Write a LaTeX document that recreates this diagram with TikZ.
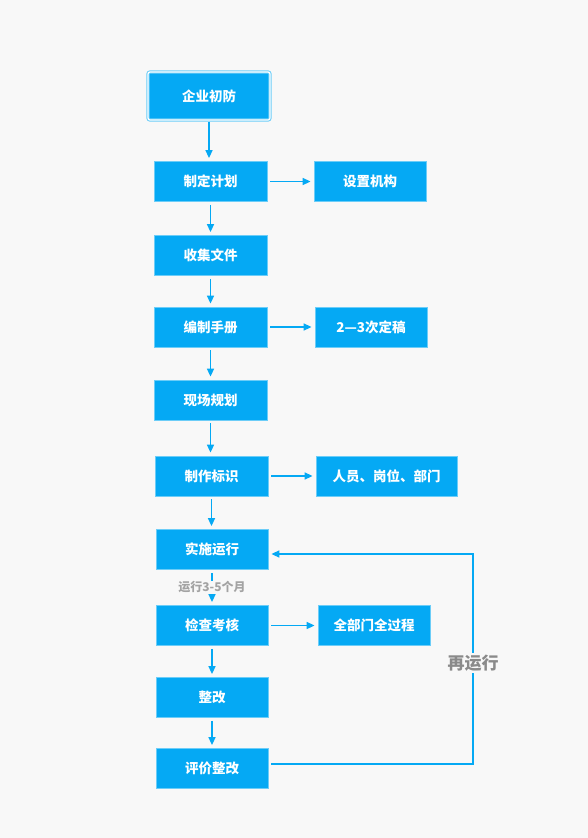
\documentclass[tikz,border=0pt]{standalone}
\usepackage{fontspec}
\setmainfont{Noto Sans CJK SC}
\usetikzlibrary{arrows.meta,calc}
\definecolor{bg}{HTML}{F8F8F8}
\definecolor{boxblue}{HTML}{05A9F4}
\definecolor{edgeblue}{HTML}{6CCDF8}
\definecolor{lblgray}{HTML}{A3A3A3}
\definecolor{lbldark}{HTML}{8A8A8A}
\tikzset{
  stepbox/.style={fill=boxblue,draw=edgeblue,line width=0.8pt,text=white,
    font=\fontsize{13.5}{16}\selectfont\bfseries,minimum width=113pt,minimum height=40pt,inner sep=0pt},
  startbox/.style={stepbox,minimum width=122pt,minimum height=48pt,rounded corners=2pt,
    draw=edgeblue,double=white,double distance=1.2pt,line width=1pt},
  flow/.style={draw=boxblue,line width=1.5pt,-{Triangle[length=8pt,width=7pt]},shorten >=3pt,shorten <=3pt},
}
\begin{document}
\begin{tikzpicture}[x=1pt,y=-1pt]
\useasboundingbox (0,0) rectangle (588,838);
\fill[bg] (0,0) rectangle (588,838);
\node[startbox] (n1) at (209,96) {企业初防};
\node[stepbox] (n2) at (210.5,181.5) {制定计划};
\node[stepbox,minimum width=112pt] (n3) at (370,181.5) {设置机构};
\node[stepbox] (n4) at (210.5,255.5) {收集文件};
\node[stepbox] (n5) at (210.5,327) {编制手册};
\node[stepbox,minimum width=112pt] (n6) at (371,327) {2—3次定稿};
\node[stepbox] (n7) at (210.5,400) {现场规划};
\node[stepbox] (n8) at (211.5,476) {制作标识};
\node[stepbox,minimum width=141pt] (n9) at (386.5,476) {人员、岗位、部门};
\node[stepbox,minimum width=112pt] (n10) at (212,549.5) {实施运行};
\node[stepbox,minimum width=112pt] (n11) at (212,625.5) {检查考核};
\node[stepbox,minimum width=112pt] (n12) at (374,625.5) {全部门全过程};
\node[stepbox,minimum width=112pt] (n13) at (212,697.5) {整改};
\node[stepbox,minimum width=112pt] (n14) at (212,768.5) {评价整改};

\draw[flow,shorten <=1pt] (n1.south) -- (n1.south |- n2.north);
\draw[flow] (n2.south) -- (n2.south |- n4.north);
\draw[flow] (n4.south) -- (n4.south |- n5.north);
\draw[flow] (n5.south) -- (n5.south |- n7.north);
\draw[flow] (n7.south) -- (n7.south |- n8.north);
\draw[flow] (n8.south) -- (n8.south |- n10.north);
\draw[flow] (n10.south) -- (n10.south |- n11.north)
  node[midway,fill=bg,inner sep=1pt,text=lblgray,font=\fontsize{12}{14}\selectfont\bfseries] (lbl1) {运行3-5个月};
\draw[flow] (n11.south) -- (n11.south |- n13.north);
\draw[flow] (n13.south) -- (n13.south |- n14.north);

\draw[flow] (n2.east) -- (n3.west);
\draw[flow] (n5.east) -- (n6.west);
\draw[flow] (n8.east) -- (n9.west);
\draw[flow] (n11.east) -- (n12.west);

\coordinate (c1) at (473,764);
\coordinate (c2) at (473,554);
\draw[flow] ([yshift=4.5pt]n14.east) -- (c1) -- (c2) -- ([yshift=-4.5pt]n10.east);
\node[fill=bg,inner sep=2pt,text=lbldark,font=\fontsize{17}{20}\selectfont\bfseries] (lbl2) at (473,663) {再运行};
\end{tikzpicture}
\end{document}
